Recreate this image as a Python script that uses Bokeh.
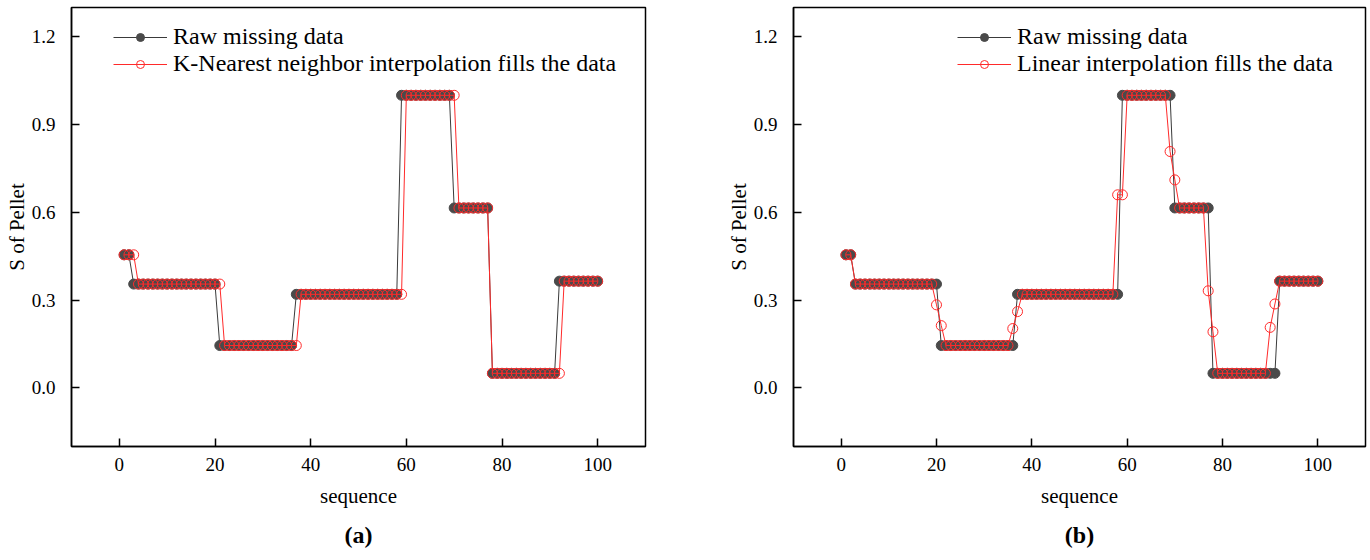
from bokeh.plotting import figure
from bokeh.models import Legend, LegendItem, Title, FixedTicker, Range1d, NumeralTickFormatter
from bokeh.layouts import row
from bokeh.embed import file_html
from bokeh.resources import INLINE

# ---------------- data ----------------
sequence = list(range(1, 101))

raw_missing = [
    0.455, 0.455,
    0.355, 0.355, 0.355, 0.355, 0.355, 0.355, 0.355, 0.355, 0.355,
    0.355, 0.355, 0.355, 0.355, 0.355, 0.355, 0.355, 0.355, 0.355,
    0.145, 0.145, 0.145, 0.145, 0.145, 0.145, 0.145, 0.145,
    0.145, 0.145, 0.145, 0.145, 0.145, 0.145, 0.145, 0.145,
    0.32, 0.32, 0.32, 0.32, 0.32, 0.32, 0.32, 0.32, 0.32, 0.32, 0.32,
    0.32, 0.32, 0.32, 0.32, 0.32, 0.32, 0.32, 0.32, 0.32, 0.32, 0.32,
    1.0, 1.0, 1.0, 1.0, 1.0, 1.0, 1.0, 1.0, 1.0, 1.0, 1.0,
    0.615, 0.615, 0.615, 0.615, 0.615, 0.615, 0.615, 0.615,
    0.05, 0.05, 0.05, 0.05, 0.05, 0.05, 0.05,
    0.05, 0.05, 0.05, 0.05, 0.05, 0.05, 0.05,
    0.365, 0.365, 0.365, 0.365, 0.365, 0.365, 0.365, 0.365, 0.365,
]

knn_filled = [
    0.455, 0.455, 0.455,
    0.355, 0.355, 0.355, 0.355, 0.355, 0.355, 0.355, 0.355, 0.355,
    0.355, 0.355, 0.355, 0.355, 0.355, 0.355, 0.355, 0.355, 0.355,
    0.145, 0.145, 0.145, 0.145, 0.145, 0.145, 0.145, 0.145,
    0.145, 0.145, 0.145, 0.145, 0.145, 0.145, 0.145, 0.145,
    0.32, 0.32, 0.32, 0.32, 0.32, 0.32, 0.32, 0.32, 0.32, 0.32, 0.32,
    0.32, 0.32, 0.32, 0.32, 0.32, 0.32, 0.32, 0.32, 0.32, 0.32, 0.32,
    1.0, 1.0, 1.0, 1.0, 1.0, 1.0, 1.0, 1.0, 1.0, 1.0, 1.0,
    0.615, 0.615, 0.615, 0.615, 0.615, 0.615, 0.615,
    0.05, 0.05, 0.05, 0.05, 0.05, 0.05, 0.05, 0.05,
    0.05, 0.05, 0.05, 0.05, 0.05, 0.05, 0.05,
    0.365, 0.365, 0.365, 0.365, 0.365, 0.365, 0.365, 0.365,
]

linear_filled = [
    0.455, 0.455,
    0.355, 0.355, 0.355, 0.355, 0.355, 0.355, 0.355, 0.355, 0.355,
    0.355, 0.355, 0.355, 0.355, 0.355, 0.355, 0.355, 0.355,
    0.284, 0.213,
    0.145, 0.145, 0.145, 0.145, 0.145, 0.145, 0.145,
    0.145, 0.145, 0.145, 0.145, 0.145, 0.145, 0.145,
    0.203, 0.261,
    0.32, 0.32, 0.32, 0.32, 0.32, 0.32, 0.32, 0.32, 0.32, 0.32,
    0.32, 0.32, 0.32, 0.32, 0.32, 0.32, 0.32, 0.32, 0.32, 0.32,
    0.66, 0.66,
    1.0, 1.0, 1.0, 1.0, 1.0, 1.0, 1.0, 1.0, 1.0,
    0.808, 0.711,
    0.615, 0.615, 0.615, 0.615, 0.615, 0.615,
    0.332, 0.192,
    0.05, 0.05, 0.05, 0.05, 0.05, 0.05, 0.05, 0.05, 0.05, 0.05, 0.05,
    0.207, 0.287,
    0.365, 0.365, 0.365, 0.365, 0.365, 0.365, 0.365, 0.365, 0.365,
]

x_ticks = [0, 20, 40, 60, 80, 100]
y_ticks = [0.0, 0.3, 0.6, 0.9, 1.2]

raw_label = "Raw missing data"
fill_labels = ["K-Nearest neighbor interpolation fills the data",
               "Linear interpolation fills the data"]
captions = ["(a)", "(b)"]

SERIF = "Liberation Serif"
BLACK = "#3a3a3a"
DOT = "#4a4a4a"
RED = "#ff2a2a"


def make_panel(filled, fill_label, caption, border_left, border_right, legend_x):
    p = figure(width=685, height=560, output_backend="svg", toolbar_location=None,
               x_range=Range1d(-10, 110), y_range=Range1d(-0.2, 1.3),
               min_border_left=border_left, min_border_right=border_right,
               min_border_top=7, min_border_bottom=114)
    p.grid.visible = False
    p.outline_line_color = "black"
    p.outline_line_width = 1.5
    p.background_fill_color = "white"
    p.border_fill_color = "white"

    for ax in (p.xaxis[0], p.yaxis[0]):
        ax.axis_line_color = "black"
        ax.axis_line_width = 1.5
        ax.major_tick_line_color = "black"
        ax.major_tick_line_width = 1.5
        ax.major_tick_in = 8
        ax.major_tick_out = 0
        ax.minor_tick_line_color = None
        ax.major_label_text_font = SERIF
        ax.major_label_text_font_size = "19px"
        ax.major_label_text_color = "black"
        ax.axis_label_text_font = SERIF
        ax.axis_label_text_font_size = "21px"
        ax.axis_label_text_font_style = "normal"
        ax.axis_label_text_color = "black"

    p.xaxis.ticker = FixedTicker(ticks=x_ticks)
    p.yaxis.ticker = FixedTicker(ticks=y_ticks)
    p.yaxis.formatter = NumeralTickFormatter(format="0.0")
    p.xaxis.axis_label = "sequence"
    p.yaxis.axis_label = "S of Pellet"
    p.xaxis.major_label_standoff = 11
    p.xaxis.axis_label_standoff = 10
    p.yaxis.major_label_standoff = 16
    p.yaxis.axis_label_standoff = 0

    l1 = p.line(sequence, raw_missing, line_color=BLACK, line_width=1)
    s1 = p.scatter(sequence, raw_missing, size=10, marker="circle",
                   fill_color=DOT, line_color=DOT, line_width=1)
    l2 = p.line(sequence, filled, line_color=RED, line_width=1)
    s2 = p.scatter(sequence, filled, size=10, marker="circle",
                   fill_color=None, line_color=RED, line_width=1)

    legend = Legend(items=[LegendItem(label=raw_label, renderers=[l1, s1]),
                           LegendItem(label=fill_label, renderers=[l2, s2])],
                    location=(legend_x, 369))
    legend.border_line_color = None
    legend.background_fill_alpha = 0
    legend.label_text_font = SERIF
    legend.label_text_font_size = "24px"
    legend.label_text_color = "black"
    legend.glyph_width = 54
    legend.glyph_height = 20
    legend.label_height = 26
    legend.label_standoff = 6
    legend.spacing = 0
    legend.padding = 4
    legend.margin = 0
    p.add_layout(legend)

    t = Title(text=caption, align="center", vertical_align="top",
              text_font=SERIF, text_font_size="24px",
              text_font_style="bold", text_color="black", standoff=22)
    p.add_layout(t, "below")
    return p


pa = make_panel(knn_filled, fill_labels[0], captions[0], 71, 40, 42)
pb = make_panel(linear_filled, fill_labels[1], captions[1], 108, 5, 164)

layout = row(pa, pb)
open("out.html", "w").write(file_html(layout, INLINE))
